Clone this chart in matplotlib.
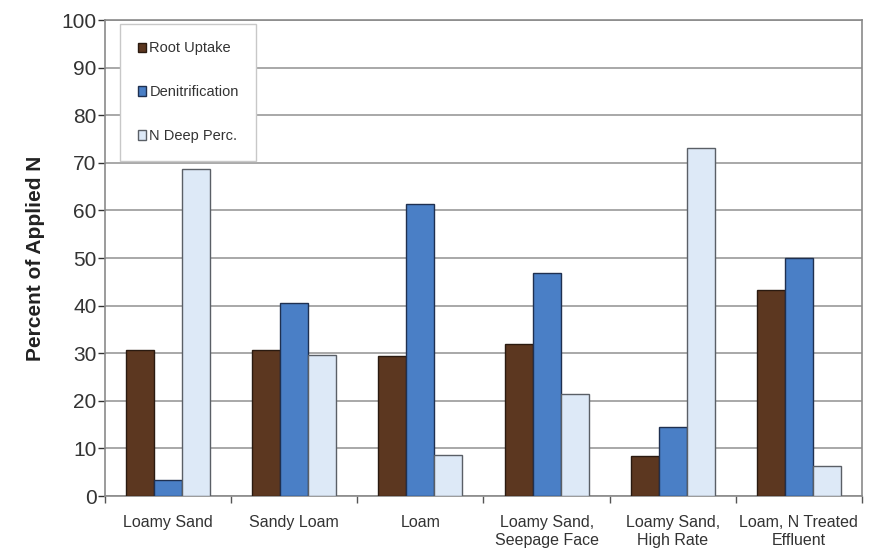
import matplotlib.pyplot as plt
import numpy as np
from matplotlib.patches import Patch

# === Dados ===
categories = ["Loamy Sand", "Sandy Loam", "Loam", "Loamy Sand,\nSeepage Face",
              "Loamy Sand,\nHigh Rate", "Loam, N Treated\nEffluent"]
root_uptake = [30.6, 30.6, 29.4, 31.9, 8.4, 43.3]
denitrification = [3.4, 40.5, 61.4, 46.9, 14.4, 50.0]
deep_perc = [68.6, 29.6, 8.6, 21.4, 73.2, 6.4]
series_names = ["Root Uptake", "Denitrification", "N Deep Perc."]

plt.rcParams['font.family'] = ['Liberation Sans', 'DejaVu Sans']

fig = plt.figure(figsize=(8.74, 5.57), dpi=100)
ax = fig.add_axes([105 / 874, 1 - 496 / 557, 757 / 874, 476 / 557])

x = np.arange(len(categories))
w = 0.222
fills = ["#5c3720", "#4a7fc6", "#dde9f7"]
edges = ["#2a1a10", "#1f3050", "#5a5f66"]
for i, (vals, name) in enumerate(zip([root_uptake, denitrification, deep_perc], series_names)):
    ax.bar(x + (i - 1) * w, vals, w, color=fills[i], edgecolor=edges[i],
           linewidth=1.0, label=name, zorder=3)

# === Eixos ===
ax.set_xlim(-0.5, len(categories) - 0.5)
ax.set_ylim(0, 100)
ax.set_yticks(np.arange(0, 101, 10))
ax.tick_params(axis='y', labelsize=15, colors='#333333', length=5, width=1,
               direction='out', pad=1)
ax.set_xticks(x)
ax.set_xticklabels(categories, fontsize=11.5, color='#333333')
ax.set_xticks(np.arange(-0.5, len(categories)), minor=True)
ax.tick_params(axis='x', which='major', length=0, pad=14)
ax.tick_params(axis='x', which='minor', length=5, width=1, color='#555555')
ax.grid(axis='y', color='#9a9a9a', linewidth=1.2, zorder=0)
for s in ax.spines.values():
    s.set_color('#8a8a8a')
    s.set_linewidth(1.2)
ax.set_ylabel("Percent of Applied N", fontsize=15, fontweight='bold',
              color='#222222', labelpad=12)

# === Legenda ===
handles = [Patch(facecolor=fills[i], edgecolor=edges[i], label=series_names[i])
           for i in range(3)]
leg = ax.legend(handles=handles, loc='upper left', bbox_to_anchor=(0.02, 0.992),
                fontsize=10.5, frameon=True, fancybox=False, framealpha=1,
                edgecolor='#c8c8c8', handlelength=0.6, handleheight=0.6,
                handletextpad=0.2, labelspacing=2.05, borderpad=1.2,
                borderaxespad=0)
leg.get_frame().set_linewidth(1.0)
leg.set_zorder(5)
for t in leg.get_texts():
    t.set_color('#333333')

fig.savefig("out.png", dpi=100)
